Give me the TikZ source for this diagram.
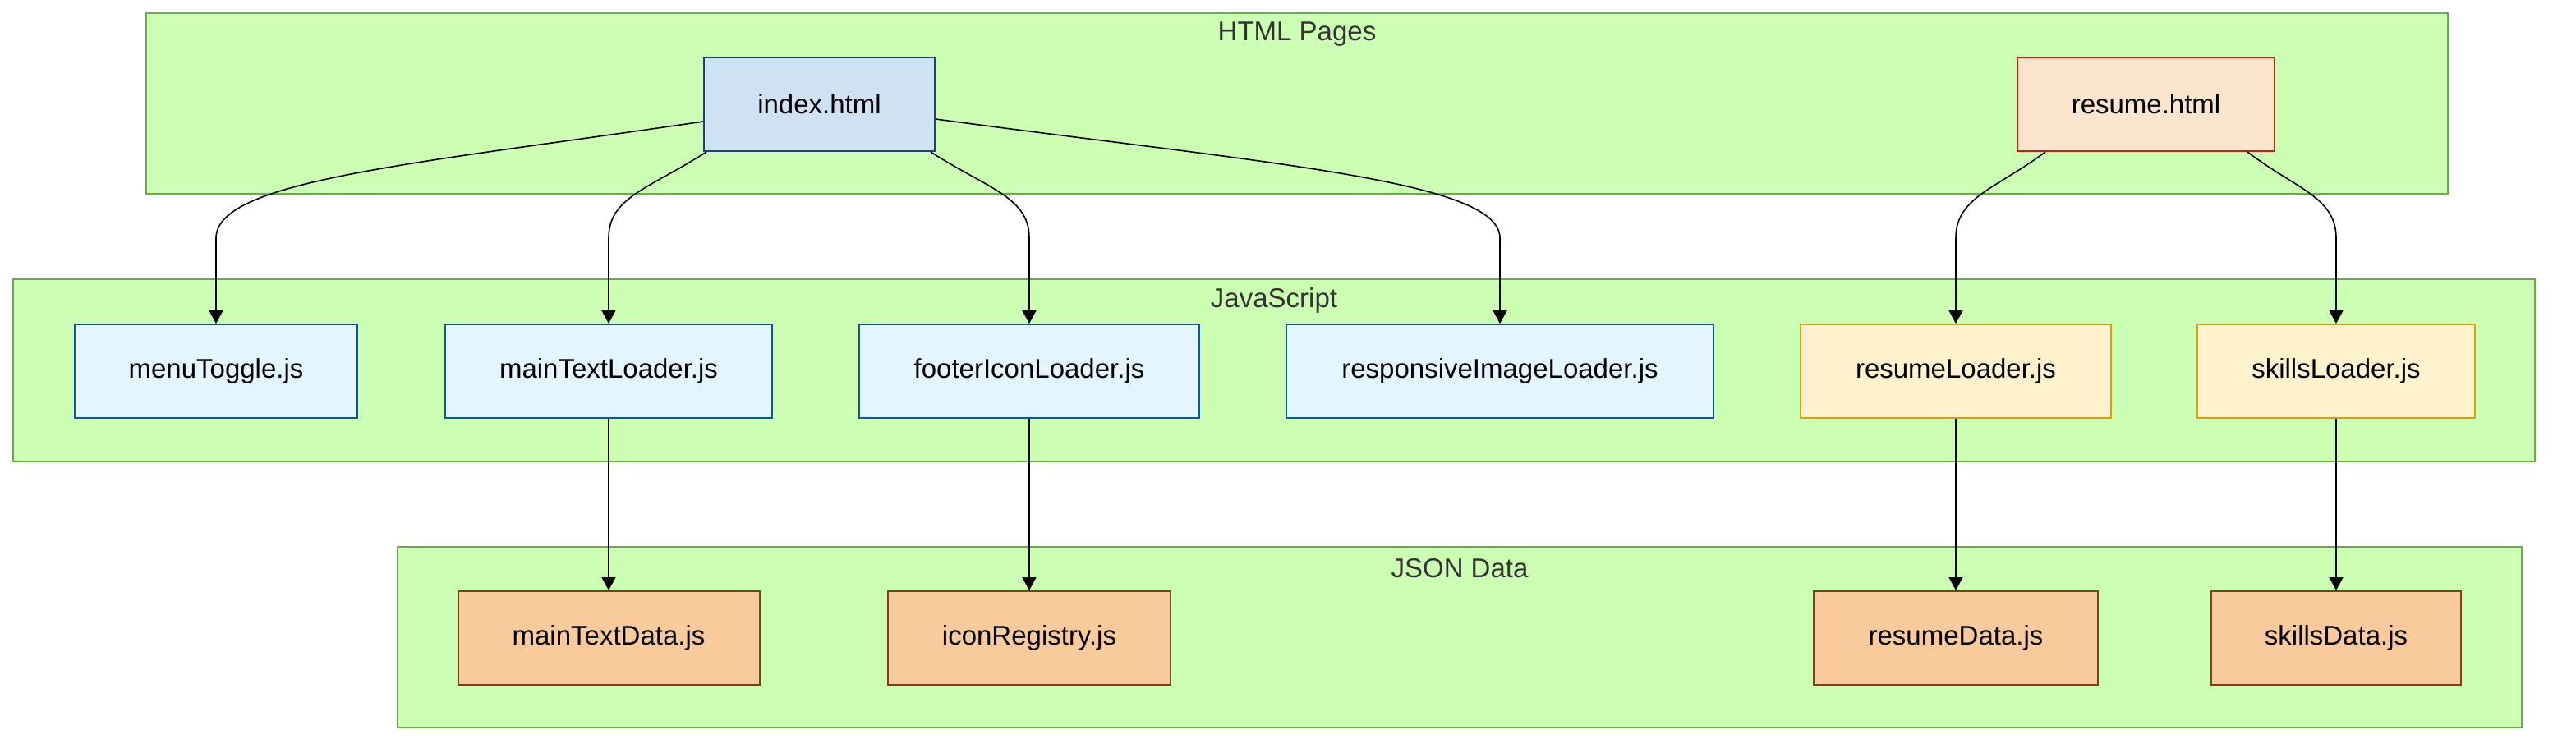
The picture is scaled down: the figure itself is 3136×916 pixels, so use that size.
\documentclass[tikz,border=0pt]{standalone}
\usepackage{fontspec}
\setmainfont{Liberation Sans}
\usetikzlibrary{arrows.meta,calc}
\definecolor{clfill}{HTML}{CCFFB3}
\definecolor{cldraw}{HTML}{6AAA4A}
\definecolor{idxfill}{HTML}{CFE2F3}
\definecolor{idxdraw}{HTML}{1C4370}
\definecolor{resfill}{HTML}{FCE5CD}
\definecolor{resdraw}{HTML}{B02A10}
\definecolor{jsfill}{HTML}{E3F5FF}
\definecolor{jsdraw}{HTML}{10579A}
\definecolor{ylfill}{HTML}{FFF2CC}
\definecolor{yldraw}{HTML}{D4A110}
\definecolor{dtfill}{HTML}{F8CA9C}
\definecolor{dtdraw}{HTML}{7A4210}
\definecolor{titlecol}{HTML}{333333}
\tikzset{
  cluster/.style={draw=cldraw, fill=clfill, line width=2pt, rectangle, inner sep=0pt},
  cltitle/.style={text=titlecol, font=\fontsize{33}{40}\selectfont, inner sep=0pt},
  filebox/.style={rectangle, line width=2pt, minimum height=114pt, inner sep=0pt, font=\fontsize{33}{40}\selectfont, text=black},
  idxbox/.style={filebox, draw=idxdraw, fill=idxfill},
  resbox/.style={filebox, draw=resdraw, fill=resfill},
  jsbox/.style={filebox, draw=jsdraw, fill=jsfill},
  ylbox/.style={filebox, draw=yldraw, fill=ylfill},
  dtbox/.style={filebox, draw=dtdraw, fill=dtfill},
  link/.style={draw=black, line width=1.6pt, -{Triangle[length=16pt, width=17pt]}}
}
\begin{document}
\begin{tikzpicture}[x=1pt, y=-1pt]
\useasboundingbox (0,0) rectangle (3136,916);
\fill[white] (0,0) rectangle (3136,916);
% clusters
\node[cluster, minimum width=2802pt, minimum height=220pt] (clhtml) at (1579,126) {};
\node[cluster, minimum width=3070pt, minimum height=222pt] (cljs) at (1551,451) {};
\node[cluster, minimum width=2586pt, minimum height=220pt] (cljson) at (1777,776) {};
\node[cltitle] (thtml) at (1579,42) {HTML Pages};
\node[cltitle] (tjs) at (1551,366) {JavaScript};
\node[cltitle] (tjson) at (1777,692) {JSON Data};
% HTML
\node[idxbox, minimum width=281pt] (index) at (997.5,127) {index.html};
\node[resbox, minimum width=313pt] (resume) at (2612.5,127) {resume.html};
% JS
\node[jsbox, minimum width=344pt] (menu) at (263,452) {menuToggle.js};
\node[jsbox, minimum width=398pt] (mtl) at (741,452) {mainTextLoader.js};
\node[jsbox, minimum width=414pt] (fil) at (1253,452) {footerIconLoader.js};
\node[jsbox, minimum width=520pt] (ril) at (1826,452) {responsiveImageLoader.js};
\node[ylbox, minimum width=378pt] (rl) at (2381,452) {resumeLoader.js};
\node[ylbox, minimum width=338pt] (sl) at (2844,452) {skillsLoader.js};
% JSON
\node[dtbox, minimum width=367pt] (mtd) at (741,777) {mainTextData.js};
\node[dtbox, minimum width=344pt] (ir) at (1253,777) {iconRegistry.js};
\node[dtbox, minimum width=346pt] (rd) at (2381,777) {resumeData.js};
\node[dtbox, minimum width=304pt] (sd) at (2844,777) {skillsData.js};
% edges
\draw[link] ($(index.west)+(0,21)$) .. controls (500,200) and (263,220) .. (263,290) -- (menu.north);
\draw[link] ($(index.south west)+(4,0)$) .. controls (790,230) and (741,240) .. (741,290) -- (mtl.north);
\draw[link] ($(index.south east)+(-6,0)$) .. controls (1203,230) and (1253,240) .. (1253,290) -- (fil.north);
\draw[link] ($(index.east)+(0,18)$) .. controls (1550,200) and (1826,220) .. (1826,290) -- (ril.north);
\draw[link] ($(resume.south west)+(35,0)$) .. controls (2430,230) and (2381,240) .. (2381,290) -- (rl.north);
\draw[link] ($(resume.south east)+(-34,0)$) .. controls (2795,230) and (2844,240) .. (2844,290) -- (sl.north);
\draw[link] (mtl.south) -- (mtd.north);
\draw[link] (fil.south) -- (ir.north);
\draw[link] (rl.south) -- (rd.north);
\draw[link] (sl.south) -- (sd.north);
\end{tikzpicture}
\end{document}
